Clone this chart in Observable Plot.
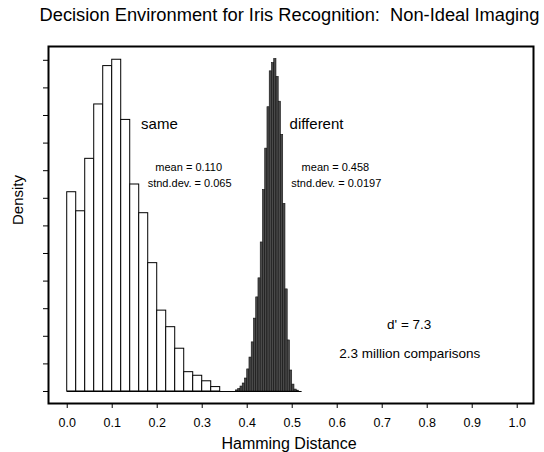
<!DOCTYPE html>
<html>
<head>
<meta charset="utf-8">
<script src="https://cdn.jsdelivr.net/npm/d3@7"></script>
<script src="https://cdn.jsdelivr.net/npm/@observablehq/plot@0.6"></script>
<style>
  html, body { margin: 0; padding: 0; background: white; }
  #chart svg { display: block; }
</style>
</head>
<body>
<div id="chart"></div>
<script>
// "same" (genuine) histogram: bin starts (width 0.02) and heights (arbitrary density units)
const sameBinStart = [0.00, 0.02, 0.04, 0.06, 0.08, 0.10, 0.12, 0.14, 0.16, 0.18, 0.20, 0.22, 0.24, 0.26, 0.28, 0.30, 0.32];
const sameHeight   = [7.22, 6.53, 8.43, 10.40, 11.79, 12.02, 9.84, 7.50, 6.46, 4.65, 2.93, 2.33, 1.55, 0.70, 0.57, 0.37, 0.16];
const sameBinWidth = 0.02;

// "different" (impostor) histogram: bin starts (width 0.005) and heights
const diffBinStart = [0.375, 0.380, 0.385, 0.390, 0.395, 0.400, 0.405, 0.410, 0.415, 0.420,
                      0.425, 0.430, 0.435, 0.440, 0.445, 0.450, 0.455, 0.460, 0.465, 0.470,
                      0.475, 0.480, 0.485, 0.490, 0.495, 0.500, 0.505, 0.510];
const diffHeight   = [0.04, 0.09, 0.18, 0.29, 0.47, 0.80, 1.23, 1.78, 2.64, 3.41,
                      4.10, 5.40, 7.30, 8.80, 10.30, 11.60, 11.90, 12.05, 11.40, 10.50,
                      9.30, 6.80, 3.70, 1.85, 0.76, 0.25, 0.07, 0.03];
const diffBinWidth = 0.005;

// axis ticks
const xTicks = [0.0, 0.1, 0.2, 0.3, 0.4, 0.5, 0.6, 0.7, 0.8, 0.9, 1.0];
const yTicks = [0, 1, 2, 3, 4, 5, 6, 7, 8, 9, 10, 11, 12];

// texts
const titleText = "Decision Environment for Iris Recognition:  Non-Ideal Imaging";
const xLabel = "Hamming Distance";
const yLabel = "Density";
const sameStats = ["mean = 0.110", "stnd.dev. = 0.065"];
const diffStats = ["mean = 0.458", "stnd.dev. = 0.0197"];
const dPrime = "d' = 7.3";
const comparisons = "2.3 million comparisons";

const sameData = sameBinStart.map((s, i) => ({x1: s, x2: s + sameBinWidth, h: sameHeight[i]}));
const diffData = diffBinStart.map((s, i) => ({x1: s, x2: s + diffBinWidth, h: diffHeight[i]}));

const font = "'Liberation Sans', Arial, Helvetica, sans-serif";

const chart = Plot.plot({
  width: 544,
  height: 452,
  marginLeft: 48,
  marginRight: 11,
  marginTop: 46,
  marginBottom: 49,
  style: {fontFamily: font, fontSize: "12px", color: "black", background: "white", overflow: "visible"},
  x: {domain: [-0.0416, 1.0362]},
  y: {domain: [-0.435, 12.5]},
  marks: [
    Plot.rectY(sameData, {x1: "x1", x2: "x2", y: "h", fill: "white", stroke: "black", strokeWidth: 1}),
    Plot.rectY(diffData, {x1: "x1", x2: "x2", y: "h", fill: "#4a4a4a", stroke: "#111", strokeWidth: 0.6}),
    Plot.ruleY([0], {x1: 0, x2: 0.522, stroke: "black", strokeWidth: 1}),
    Plot.frame({stroke: "black", strokeWidth: 2}),
    Plot.axisX({ticks: xTicks, tickFormat: d3.format(".1f"), tickSize: 5, tickPadding: 10, fontSize: 12.5, label: null}),
    Plot.axisY({ticks: yTicks, tickFormat: () => "", tickSize: 5, label: null}),
    // title
    Plot.text([titleText], {frameAnchor: "top", dy: -31, dx: -1.5, fontSize: 18.3, lineAnchor: "middle", fill: "black"}),
    // axis labels
    Plot.text([xLabel], {frameAnchor: "bottom", dy: 40, dx: -2, fontSize: 16, lineAnchor: "middle", fill: "black"}),
    Plot.text([yLabel], {frameAnchor: "left", dx: -30, rotate: -90, fontSize: 15, lineAnchor: "middle", fill: "black"}),
    // annotations
    Plot.text(["same"], {x: 0.205, y: 9.68, fontSize: 15, lineAnchor: "middle", fill: "black"}),
    Plot.text(["different"], {x: 0.554, y: 9.68, fontSize: 15, lineAnchor: "middle", fill: "black"}),
    Plot.text([sameStats[0]], {x: 0.270, y: 8.13, fontSize: 11, lineAnchor: "middle", fill: "black"}),
    Plot.text([sameStats[1]], {x: 0.272, y: 7.53, fontSize: 11, lineAnchor: "middle", fill: "black"}),
    Plot.text([diffStats[0]], {x: 0.596, y: 8.13, fontSize: 11, lineAnchor: "middle", fill: "black"}),
    Plot.text([diffStats[1]], {x: 0.598, y: 7.53, fontSize: 11, lineAnchor: "middle", fill: "black"}),
    Plot.text([dPrime], {x: 0.760, y: 2.43, fontSize: 13.5, lineAnchor: "middle", fill: "black"}),
    Plot.text([comparisons], {x: 0.761, y: 1.38, fontSize: 13.5, lineAnchor: "middle", fill: "black"})
  ]
});
document.getElementById("chart").appendChild(chart);
</script>
</body>
</html>
